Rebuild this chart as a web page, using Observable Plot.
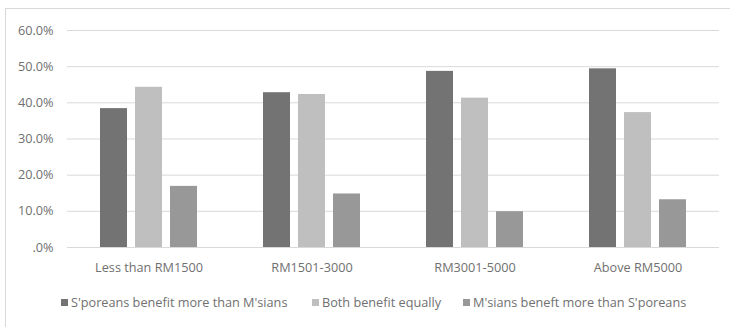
<!DOCTYPE html>
<html>
<head>
<meta charset="utf-8">
<script src="https://cdn.jsdelivr.net/npm/d3@7"></script>
<script src="https://cdn.jsdelivr.net/npm/@observablehq/plot@0.6"></script>
<style>
  html, body { margin: 0; padding: 0; background: #fff; }
  body { width: 730px; height: 327px; position: relative; overflow: hidden; font-family: "Open Sans", sans-serif; }
  #frame { position: absolute; left: 5px; top: 8px; width: 740px; height: 340px; border: 1px solid #d9d9d9; box-sizing: border-box; }
  #chart { position: absolute; left: 0; top: 0; }
  #legend { position: absolute; top: 293px; left: 0; width: 730px; height: 18px; font-size: 12.7px; color: #707070; }
  .item { position: absolute; top: 0; white-space: nowrap; line-height: 18px; }
  .sw { display: inline-block; width: 7px; height: 7px; margin-right: 3px; vertical-align: 1px; }
</style>
</head>
<body>
<div id="frame"></div>
<div id="chart"></div>
<div id="legend"></div>
<script>
const categories = ["Less than RM1500", "RM1501-3000", "RM3001-5000", "Above RM5000"];
const seriesNames = ["S'poreans benefit more than M'sians", "Both benefit equally", "M'sians beneft more than S'poreans"];
const sporeansMore = [0.384, 0.428, 0.487, 0.494];
const bothEqual = [0.443, 0.423, 0.413, 0.373];
const msiansMore = [0.169, 0.148, 0.099, 0.132];
const seriesColors = ["#737373", "#bfbfbf", "#989898"];
const yTicks = [0, 0.1, 0.2, 0.3, 0.4, 0.5, 0.6];

const seriesValues = [sporeansMore, bothEqual, msiansMore];
const rows = [];
categories.forEach((c, i) => {
  seriesNames.forEach((s, j) => rows.push({category: c, series: s, value: seriesValues[j][i]}));
});

const chart = Plot.plot({
  width: 730,
  height: 280,
  marginLeft: 67,
  marginRight: 11,
  marginTop: 30,
  marginBottom: 33,
  style: {fontFamily: "'Open Sans', sans-serif", fontSize: "12.7px", color: "#707070", background: "transparent"},
  fx: {domain: categories, paddingInner: 0, paddingOuter: 0, label: null, axis: "bottom", tickSize: 0, tickPadding: 15},
  x: {domain: seriesNames, paddingInner: 0.222, paddingOuter: 0.875, axis: null},
  y: {domain: [0, 0.6], ticks: yTicks, label: null, tickSize: 0, tickPadding: 14,
      tickFormat: d => d === 0 ? ".0%" : (d * 100).toFixed(1) + "%"},
  color: {domain: seriesNames, range: seriesColors},
  marks: [
    Plot.gridY(yTicks, {stroke: "#d9d9d9", strokeOpacity: 1, strokeWidth: 1}),
    Plot.barY(rows, {fx: "category", x: "series", y: "value", fill: "series", insetLeft: 0, insetRight: 0})
  ]
});
document.getElementById("chart").appendChild(chart);

const legendLefts = [61, 312, 463];
const legend = document.getElementById("legend");
seriesNames.forEach((s, j) => {
  const it = document.createElement("div");
  it.className = "item";
  it.style.left = legendLefts[j] + "px";
  const sw = document.createElement("span");
  sw.className = "sw";
  sw.style.background = seriesColors[j];
  it.appendChild(sw);
  it.appendChild(document.createTextNode(s));
  legend.appendChild(it);
});
</script>
</body>
</html>
